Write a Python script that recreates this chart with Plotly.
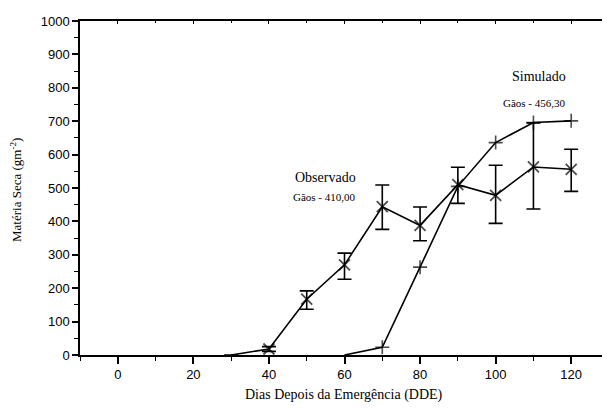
import plotly.graph_objects as go

# Observed data (× markers, with error bars)
obs_days = [30, 40, 50, 60, 70, 80, 90, 100, 110, 120]
obs_vals = [0, 18, 167, 270, 444, 388, 510, 478, 563, 556]
obs_err_plus = [0, 7, 25, 35, 65, 55, 52, 90, 132, 60]
obs_err_minus = [0, 7, 30, 43, 68, 46, 56, 84, 126, 66]
obs_marker = ["none", "x", "x", "x", "x", "x", "x", "x", "x", "x"]

# Simulated data (+ markers)
sim_days = [60, 70, 80, 90, 100, 110, 120]
sim_vals = [0, 23, 263, 505, 636, 696, 701]
sim_marker = ["none", "+", "+", "+", "+", "+", "+"]

x_ticks = [0, 20, 40, 60, 80, 100, 120]
y_ticks = [0, 100, 200, 300, 400, 500, 600, 700, 800, 900, 1000]

serif = "Liberation Serif"
sans = "Liberation Sans"

fig = go.Figure()

fig.add_trace(go.Scatter(
    x=obs_days, y=obs_vals, mode="lines+markers",
    line=dict(color="black", width=1.6),
    marker=dict(symbol=["circle" if m == "none" else "x-thin" for m in obs_marker],
                size=[0 if m == "none" else 11 for m in obs_marker],
                color="black", line=dict(color="black", width=1.8)),
    error_y=dict(type="data", symmetric=False, array=obs_err_plus,
                 arrayminus=obs_err_minus, color="black", thickness=1.6, width=7),
    showlegend=False, cliponaxis=False,
))

fig.add_trace(go.Scatter(
    x=sim_days, y=sim_vals, mode="lines+markers",
    line=dict(color="black", width=1.6),
    marker=dict(symbol=["circle" if m == "none" else "cross-thin" for m in sim_marker],
                size=[0 if m == "none" else 10 for m in sim_marker],
                color="black", line=dict(color="black", width=1.6)),
    showlegend=False, cliponaxis=False,
))

# invisible trace for mirrored axes
fig.add_trace(go.Scatter(x=[0], y=[0], xaxis="x2", yaxis="y2", mode="markers",
                         marker=dict(opacity=0), showlegend=False, hoverinfo="skip"))

# page body has an 8px margin: figure is 602x400 drawn at (8, 8)
OFF = 8
fig.update_layout(
    width=610 - OFF, height=408 - OFF,
    margin=dict(l=80 - OFF, r=1, t=21 - OFF, b=53),
    paper_bgcolor="white", plot_bgcolor="white",
    xaxis=dict(
        range=[-10, 130], tickvals=x_ticks, ticktext=[str(v) for v in x_ticks],
        automargin=False,
        showgrid=False, zeroline=False, showline=True, linecolor="black", linewidth=1.5,
        ticks="outside", ticklen=7, tickwidth=1.5, tickcolor="black",
        minor=dict(dtick=10, tick0=0, ticks="outside", ticklen=4, tickwidth=1.2, tickcolor="black"),
        tickfont=dict(family=sans, size=13, color="black"),
    ),
    yaxis=dict(
        range=[0, 1000], tickvals=y_ticks, ticktext=[str(v) for v in y_ticks],
        automargin=False,
        showgrid=False, zeroline=False, showline=True, linecolor="black", linewidth=1.5,
        ticks="outside", ticklen=6, tickwidth=1.5, tickcolor="black",
        minor=dict(dtick=50, tick0=0, ticks="outside", ticklen=4, tickwidth=1.2, tickcolor="black"),
        tickfont=dict(family=sans, size=13, color="black"),
    ),
    xaxis2=dict(
        overlaying="x", side="top", range=[-10, 130], showticklabels=False, automargin=False,
        showgrid=False, zeroline=False, showline=True, linecolor="black", linewidth=1.5,
        tickvals=x_ticks, ticks="inside", ticklen=3, tickwidth=1, tickcolor="black",
        minor=dict(dtick=10, tick0=0, ticks="inside", ticklen=2, tickcolor="black"),
    ),
    yaxis2=dict(
        overlaying="y", side="right", range=[0, 1000], showticklabels=False, automargin=False,
        showgrid=False, zeroline=False, showline=True, linecolor="black", linewidth=1.5,
        tickvals=y_ticks, ticks="inside", ticklen=4, tickwidth=1, tickcolor="black",
        minor=dict(dtick=50, tick0=0, ticks="inside", ticklen=3, tickcolor="black"),
    ),
)

# plot area in page pixels
pl, pr, pt, pb = 80, 609, 21, 355


def paper(px, py):
    return (px - pl) / (pr - pl), (pb - py) / (pb - pt)


anns = [
    (358, 177, "Observado", 14, "right", 0),
    (358, 197, "Gãos - 410,00", 11, "right", 0),
    (539, 76, "Simulado", 14, "center", 0),
    (534, 103, "Gãos - 456,30", 11, "center", 0),
    (344, 395, "Dias Depois da Emergência (DDE)", 14, "center", 0),
    (16, 190, "Matéria Seca (gm<sup>-2</sup>)", 13, "center", -90),
]
for px, py, txt, sz, xa, ang in anns:
    ax, ay = paper(px, py)
    fig.add_annotation(x=ax, y=ay, xref="paper", yref="paper", text=txt, showarrow=False,
                       font=dict(family=serif, size=sz, color="black"),
                       xanchor=xa, yanchor="middle", textangle=ang)

fig.write_html("out.html")
